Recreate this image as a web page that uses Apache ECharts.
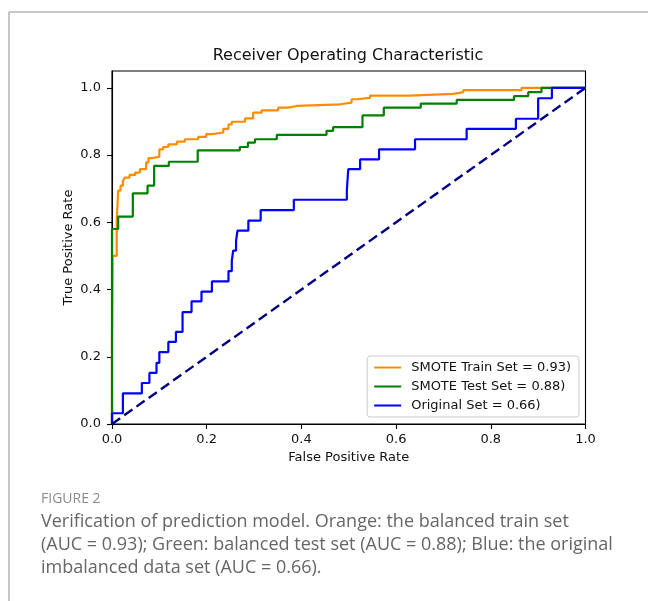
<!DOCTYPE html>
<html>
<head>
<meta charset="utf-8">
<script src="https://cdn.jsdelivr.net/npm/echarts@6/dist/echarts.min.js"></script>
<style>
html,body{margin:0;padding:0;background:#fff;}
#chart{width:648px;height:601px;}
</style>
</head>
<body>
<div id="chart"></div>
<script>
// ROC jump points: [fpr at which the curve rises, tpr reached]
const trainJumps = [
  [0,0.25],[0.0015,0.50],[0.01,0.605],[0.013,0.694],[0.018,0.709],[0.023,0.723],[0.027,0.733],
  [0.037,0.741],[0.049,0.748],[0.059,0.758],[0.072,0.778],[0.077,0.791],[0.084,0.795],[0.10,0.817],
  [0.108,0.824],[0.119,0.832],[0.137,0.840],[0.154,0.847],[0.182,0.854],[0.199,0.862],[0.211,0.867],
  [0.235,0.878],[0.246,0.891],[0.253,0.899],[0.281,0.909],[0.298,0.926],[0.316,0.933],[0.351,0.941],
  [0.372,0.946],[0.39,0.951],[0.482,0.956],[0.506,0.966],[0.517,0.970],[0.545,0.977],[0.629,0.982],
  [0.721,0.987],[0.742,0.993],[0.865,1.0]
];
const testJumps = [
  [0,0.58],[0.013,0.617],[0.044,0.686],[0.075,0.709],[0.089,0.768],[0.120,0.780],[0.181,0.814],
  [0.270,0.824],[0.287,0.837],[0.302,0.847],[0.348,0.860],[0.453,0.872],[0.467,0.883],[0.529,0.918],
  [0.574,0.941],[0.652,0.953],[0.728,0.964],[0.849,0.975],[0.879,0.987],[0.907,1.0]
];
const originalJumps = [
  [0,0.032],[0.023,0.091],[0.063,0.122],[0.079,0.152],[0.094,0.182],[0.10,0.214],[0.119,0.244],
  [0.135,0.274],[0.149,0.333],[0.168,0.365],[0.189,0.394],[0.211,0.424],[0.246,0.455],[0.253,0.486],
  [0.256,0.516],[0.262,0.545],[0.265,0.575],[0.288,0.605],[0.314,0.636],[0.384,0.667],[0.496,0.696],
  [0.499,0.758],[0.524,0.787],[0.564,0.817],[0.640,0.847],[0.749,0.878],[0.853,0.908],[0.90,0.969],
  [0.929,1.0]
];
const chancePoints = [[0,0],[1,1]];
const seriesNames = ['SMOTE Train Set = 0.93)','SMOTE Test Set = 0.88)','Original Set = 0.66)'];
const xTicks = [0,0.2,0.4,0.6,0.8,1.0];
const yTicks = [0,0.2,0.4,0.6,0.8,1.0];
const titleText = 'Receiver Operating Characteristic';
const xLabel = 'False Positive Rate';
const yLabel = 'True Positive Rate';
const figLabel = 'FIGURE 2';
const captionLines = [
  'Verification of prediction model. Orange: the balanced train set',
  '(AUC = 0.93); Green: balanced test set (AUC = 0.88); Blue: the original',
  'imbalanced data set (AUC = 0.66).'
];

function toSteps(jumps){
  const pts = [[0,0]];
  let prev = 0;
  jumps.forEach(([f,t]) => { pts.push([f,prev]); pts.push([f,t]); prev = t; });
  pts.push([1,prev]);
  return pts;
}

const colors = ['#ff8c00','#008000','#0000ff'];
const FONT = 'DejaVu Sans';
const chart = echarts.init(document.getElementById('chart'), null, {renderer:'canvas'});
const gridL = 112, gridT = 71, gridR = 62.5, gridB = 177;

const lineSeries = [trainJumps,testJumps,originalJumps].map((j,i)=>({
  name: seriesNames[i], type:'line', data: toSteps(j), symbol:'none', showSymbol:false,
  lineStyle:{color:colors[i], width:2.2}, itemStyle:{color:colors[i]}, animation:false, z: 3+i
}));
lineSeries.push({
  name:'chance', type:'line', data: chancePoints, symbol:'none',
  lineStyle:{color:'#000080', width:2.4, type:[10,5]}, animation:false, z:7
});

chart.setOption({
  animation:false,
  backgroundColor:'#fff',
  grid:{left:gridL, top:gridT, right:gridR, bottom:gridB, show:true, borderColor:'#000', borderWidth:1.1, containLabel:false},
  legend:{
    data: seriesNames, orient:'vertical', right:69, bottom:184,
    itemWidth:27, itemHeight:13, itemGap:6,
    itemStyle:{opacity:0},
    padding:[5,8,5,6], backgroundColor:'rgba(255,255,255,0.85)', borderColor:'#cccccc', borderWidth:1, borderRadius:3,
    textStyle:{fontFamily:FONT, fontSize:13, color:'#111', padding:[0,0,0,5]}
  },
  xAxis:{
    type:'value', min:0, max:1, interval:0.2,
    name:xLabel, nameLocation:'middle', nameGap:27, nameMoveOverlap:false,
    nameTextStyle:{fontFamily:FONT, fontSize:13, color:'#111'},
    axisLine:{show:true, onZero:false, lineStyle:{color:'#000', width:1.1}},
    axisTick:{show:true, inside:false, length:5, lineStyle:{color:'#000', width:1.1}},
    axisLabel:{margin:9, fontFamily:FONT, fontSize:13, color:'#111', formatter:v=>v.toFixed(1)},
    splitLine:{show:false}
  },
  yAxis:{
    type:'value', min:0, max:1.05, interval:0.2,
    name:yLabel, nameLocation:'middle', nameGap:37, nameRotate:90, nameMoveOverlap:false,
    nameTextStyle:{fontFamily:FONT, fontSize:13, color:'#111'},
    axisLine:{show:true, onZero:false, lineStyle:{color:'#000', width:1.1}},
    axisTick:{show:true, inside:false, length:5, customValues:yTicks, lineStyle:{color:'#000', width:1.1}},
    axisLabel:{margin:11, fontFamily:FONT, fontSize:13, color:'#111', customValues:yTicks, formatter:v=>v.toFixed(1)},
    splitLine:{show:false}
  },
  series: lineSeries,
  graphic:[
    {type:'line', shape:{x1:9, y1:12, x2:648, y2:12}, style:{stroke:'#b5b5b5', lineWidth:1.5}, silent:true},
    {type:'line', shape:{x1:9, y1:12, x2:9, y2:601}, style:{stroke:'#b5b5b5', lineWidth:1.5}, silent:true},
    {type:'text', x:348, y:56, style:{text:titleText, font:'16px "DejaVu Sans"', fill:'#111', textAlign:'center', textVerticalAlign:'middle'}},
    {type:'text', x:41, y:499, style:{text:figLabel, font:'14px "Open Sans"', fill:'#8a8a8a', textAlign:'left', textVerticalAlign:'middle'}},
    {type:'text', x:41, y:522, style:{text:captionLines[0], font:'18px "Open Sans"', fill:'#666', textAlign:'left', textVerticalAlign:'middle'}},
    {type:'text', x:41, y:545, style:{text:captionLines[1], font:'18px "Open Sans"', fill:'#666', textAlign:'left', textVerticalAlign:'middle'}},
    {type:'text', x:41, y:568, style:{text:captionLines[2], font:'18px "Open Sans"', fill:'#666', textAlign:'left', textVerticalAlign:'middle'}}
  ]
});
</script>
</body>
</html>
